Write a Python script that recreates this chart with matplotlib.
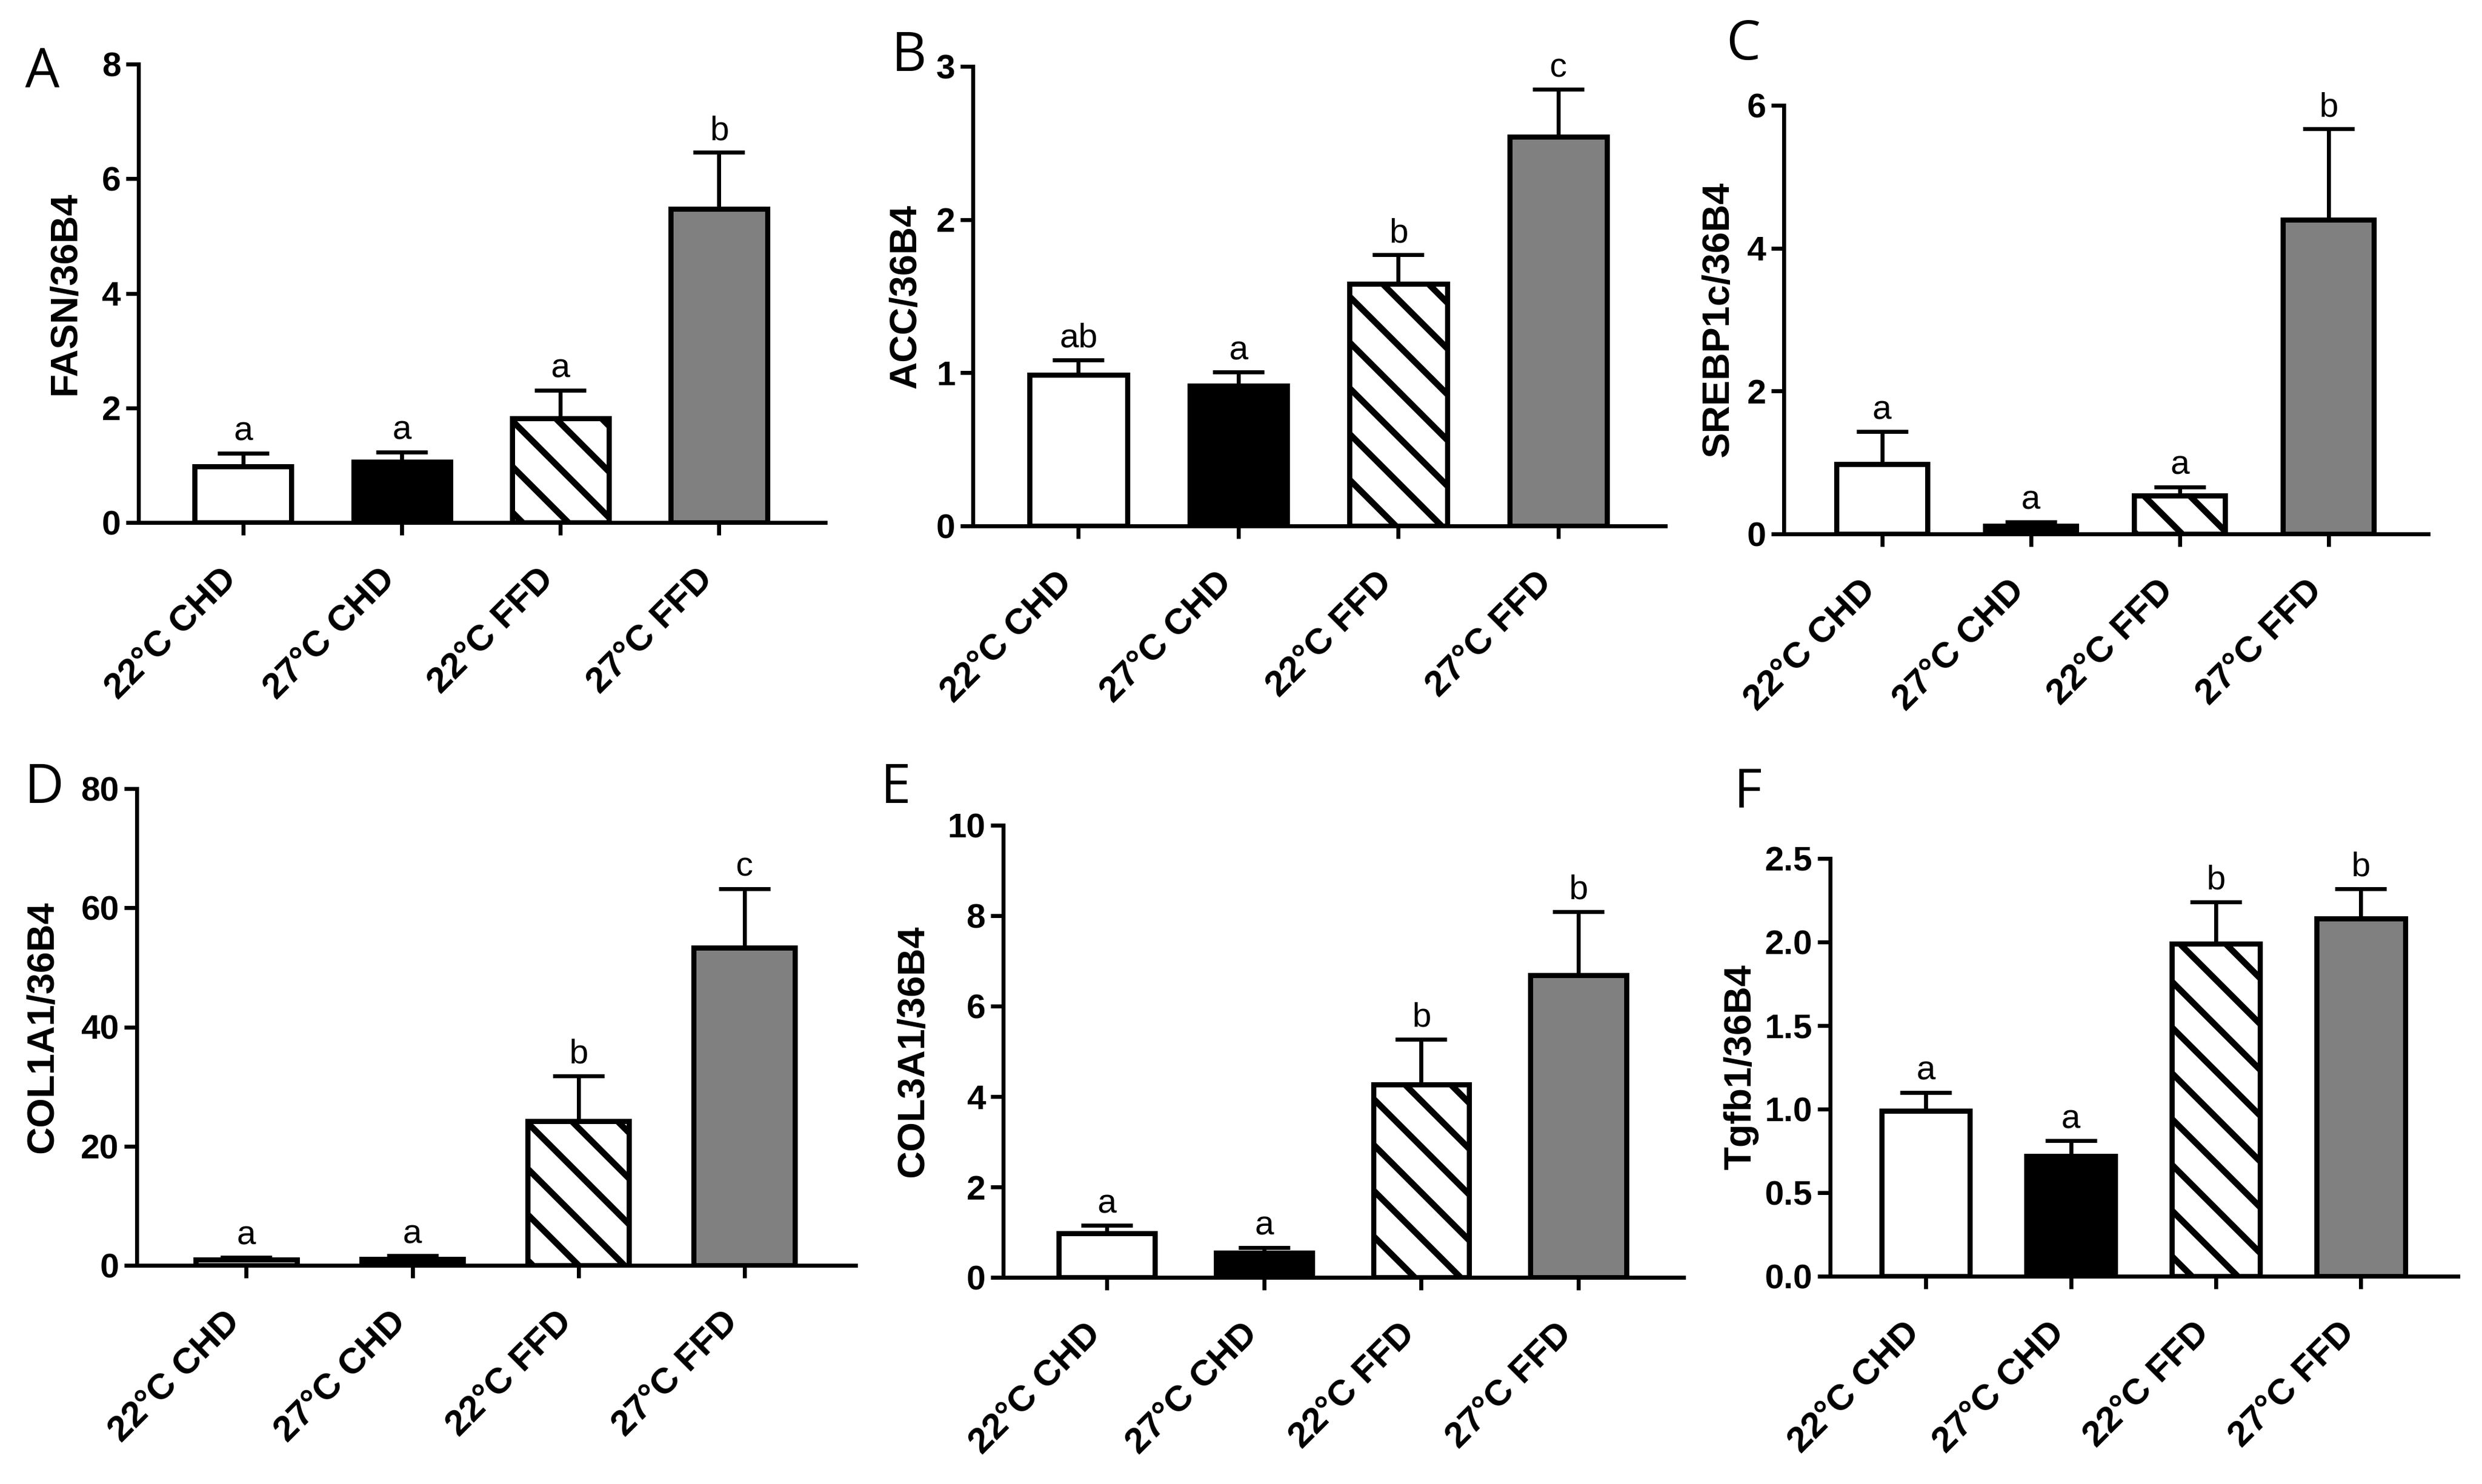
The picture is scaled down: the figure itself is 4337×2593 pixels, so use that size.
import matplotlib
matplotlib.use("Agg")
import matplotlib.pyplot as plt

# ---------------- data ----------------
categories = ["22°C CHD", "27°C CHD", "22°C FFD", "27°C FFD"]

fasn_mean = [0.98, 1.06, 1.82, 5.47]
fasn_err = [0.23, 0.17, 0.49, 0.99]
fasn_letters = ["a", "a", "a", "b"]

acc_mean = [0.985, 0.914, 1.58, 2.54]
acc_err = [0.10, 0.09, 0.19, 0.31]
acc_letters = ["ab", "a", "b", "c"]

srebp_mean = [0.98, 0.11, 0.54, 4.40]
srebp_err = [0.45, 0.06, 0.12, 1.27]
srebp_letters = ["a", "a", "a", "b"]

col1a1_mean = [1.0, 1.1, 24.2, 53.3]
col1a1_err = [0.35, 0.5, 7.6, 9.9]
col1a1_letters = ["a", "a", "b", "c"]

col3a1_mean = [0.97, 0.54, 4.26, 6.68]
col3a1_err = [0.18, 0.12, 1.01, 1.41]
col3a1_letters = ["a", "a", "b", "b"]

tgfb1_mean = [0.99, 0.72, 1.99, 2.14]
tgfb1_err = [0.11, 0.09, 0.25, 0.18]
tgfb1_letters = ["a", "a", "b", "b"]

ylabels = ["FASN/36B4", "ACC/36B4", "SREBP1c/36B4",
           "COL1A1/36B4", "COL3A1/36B4", "Tgfb1/36B4"]
panel_letters = ["A", "B", "C", "D", "E", "F"]
yticks_list = [[0, 2, 4, 6, 8], [0, 1, 2, 3], [0, 2, 4, 6],
               [0, 20, 40, 60, 80], [0, 2, 4, 6, 8, 10],
               [0.0, 0.5, 1.0, 1.5, 2.0, 2.5]]

# ---------------- style ----------------
W, H = 4337, 2593
DPI = 240
PT = 72.0 / DPI  # points per pixel

plt.rcParams["hatch.linewidth"] = 3.3
BOLD = {"family": "Liberation Sans", "weight": "bold"}

facecolors = ["white", "black", "white", "#808080"]
hatches = ["", "", "\\", ""]

# axes rectangles in pixels: left, right, top (top tick), bottom (zero line)
rects_px = [
    (242, 1442, 112, 913),
    (1700, 2910, 116, 919),
    (3117, 4243, 184, 933),
    (239, 1495, 1378, 2211),
    (1753, 2942, 1442, 2232),
    (3198, 4295, 1500, 2230),
]
# panel letter (left, baseline) in pixels
letter_px = [(44, 152), (1558, 124), (3016, 104), (43, 1403), (1539, 1403), (3030, 1411)]
# y-label centre x in pixels
ylabel_x = [115, 1583, 3003, 75, 1596, 3042]

panels = [
    (fasn_mean, fasn_err, fasn_letters),
    (acc_mean, acc_err, acc_letters),
    (srebp_mean, srebp_err, srebp_letters),
    (col1a1_mean, col1a1_err, col1a1_letters),
    (col3a1_mean, col3a1_err, col3a1_letters),
    (tgfb1_mean, tgfb1_err, tgfb1_letters),
]

fig = plt.figure(figsize=(W / DPI, H / DPI), dpi=DPI)
fig.patch.set_facecolor("white")

LW_AX = 7 * PT
LW_BAR = 9 * PT
x = list(range(len(categories)))

for i, ((means, errs, lets), (l, r, t, b)) in enumerate(zip(panels, rects_px)):
    ax = fig.add_axes([l / W, 1 - b / H, (r - l) / W, (b - t) / H])
    yt = yticks_list[i]
    ax.errorbar(x, means, yerr=[[0] * len(errs), errs], fmt="none",
                ecolor="black", elinewidth=LW_AX, capsize=45 * PT,
                capthick=LW_AX, zorder=2, clip_on=False)
    ax.bar(x, means, width=0.61, color=facecolors, edgecolor="black",
           linewidth=LW_BAR, hatch=hatches, zorder=3)
    for xi, m, e, s in zip(x, means, errs, lets):
        ax.annotate(s, (xi, m + e), xytext=(0, 22 * PT), textcoords="offset points",
                    ha="center", va="baseline", fontsize=18,
                    family="Liberation Sans", annotation_clip=False)
    ax.set_xlim(-0.66, 3.67)
    ax.set_ylim(yt[0], yt[-1])
    ax.set_yticks(yt)
    if i == 5:
        ax.set_yticklabels([f"{v:.1f}" for v in yt], fontdict=BOLD, fontsize=18)
    else:
        ax.set_yticklabels([f"{v:d}" for v in yt], fontdict=BOLD, fontsize=18)
    ax.set_xticks(x)
    ax.set_xticklabels(categories, rotation=45, ha="right", fontdict=BOLD, fontsize=19)
    for sp in ("top", "right"):
        ax.spines[sp].set_visible(False)
    for sp in ("left", "bottom"):
        ax.spines[sp].set_linewidth(LW_AX)
    ax.tick_params(axis="both", direction="out", length=22 * PT, width=LW_AX, color="black")
    ax.tick_params(axis="y", pad=9 * PT)
    ax.tick_params(axis="x", pad=46 * PT)
    ax.set_facecolor("none")

    fig.text(ylabel_x[i] / W, 1 - ((t + b) / 2) / H, ylabels[i], rotation=90,
             ha="center", va="center", fontsize=20, **BOLD)
    lx, ly = letter_px[i]
    fig.text(lx / W, 1 - ly / H, panel_letters[i], ha="left", va="baseline",
             fontsize=28.5, family="Open Sans")

fig.savefig("out.png", dpi=DPI, facecolor="white")
